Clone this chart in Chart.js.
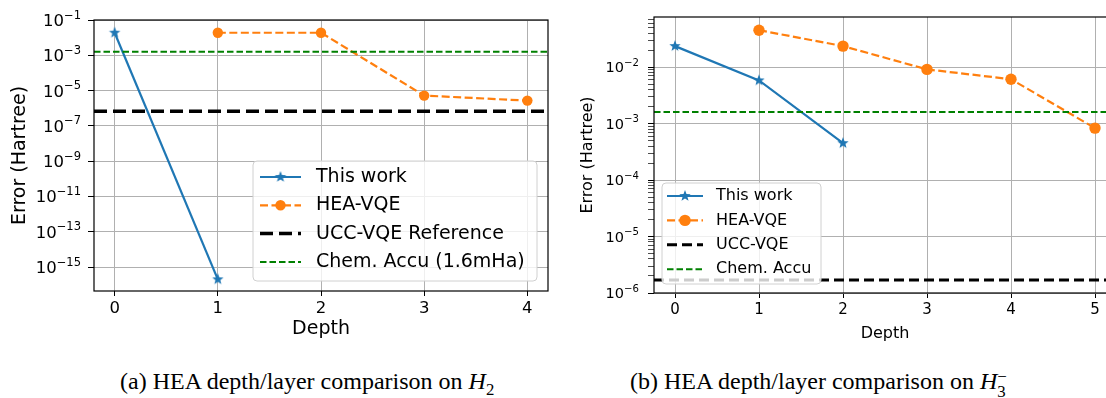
<!DOCTYPE html>
<html>
<head>
<meta charset="utf-8">
<script src="https://cdn.jsdelivr.net/npm/chart.js@4.4.1/dist/chart.umd.min.js"></script>
<style>
  body { margin: 0; background: #fff; width: 1106px; height: 398px; position: relative; overflow: hidden; }
  #chartA { position: absolute; left: 0; top: 0; }
  #chartB { position: absolute; left: 560px; top: 0; }
  .caption { position: absolute; top: 368px; font-family: "Liberation Serif", serif; font-size: 24px; line-height: 26px; white-space: nowrap; color: #000; }
  .stack { display: inline-block; vertical-align: -0.45em; font-size: 0.7em; line-height: 0.85; }
  .stack span { display: block; }
</style>
</head>
<body>
<canvas id="chartA" width="560" height="350"></canvas>
<canvas id="chartB" width="566" height="350"></canvas>
<div class="caption" style="left:120px">(a) HEA depth/layer comparison on <i>H</i><sub style="font-size:0.7em">2</sub></div>
<div class="caption" style="left:630px">(b) HEA depth/layer comparison on <i>H</i><span class="stack"><span>&minus;</span><span>3</span></span></div>
<script>
// ---- (a) H2 ----
const xTicksA = [0, 1, 2, 3, 4];
const thisWorkDepthA = [0, 1];
const thisWorkA = [1.9e-2, 2e-16];
const heaDepthA = [1, 2, 3, 4];
const heaA = [1.9e-2, 1.9e-2, 5.2e-6, 2.7e-6];
const uccA = 6.8e-7;
const chemAccuA = 1.6e-3;
const yTicksA = [1e-1, 1e-3, 1e-5, 1e-7, 1e-9, 1e-11, 1e-13, 1e-15];

// ---- (b) H3- ----
const xTicksB = [0, 1, 2, 3, 4, 5];
const thisWorkDepthB = [0, 1, 2];
const thisWorkB = [2.35e-2, 5.8e-3, 4.5e-4];
const heaDepthB = [1, 2, 3, 4, 5];
const heaB = [4.5e-2, 2.35e-2, 9.1e-3, 6.1e-3, 8.3e-4];
const uccB = 1.7e-6;
const chemAccuB = 1.6e-3;
const yTicksB = [1e-6, 1e-5, 1e-4, 1e-3, 1e-2];

const labelsA = ['This work', 'HEA-VQE', 'UCC-VQE Reference', 'Chem. Accu (1.6mHa)'];
const labelsB = ['This work', 'HEA-VQE', 'UCC-VQE', 'Chem. Accu'];

const BLUE = '#1f77b4', ORANGE = '#ff7f0e', GREEN = '#008000', GRID = '#b0b0b0';

Chart.defaults.font.family = '"DejaVu Sans", sans-serif';
Chart.defaults.color = '#000';

function makeStar(r, color) {
  const c = document.createElement('canvas');
  c.width = c.height = Math.ceil(2 * r + 2);
  const g = c.getContext('2d');
  g.beginPath();
  for (let i = 0; i < 10; i++) {
    const a = -Math.PI / 2 + i * Math.PI / 5;
    const rr = i % 2 ? r * 0.42 : r;
    g.lineTo(c.width / 2 + rr * Math.cos(a), c.height / 2 + rr * Math.sin(a));
  }
  g.closePath();
  g.fillStyle = color;
  g.fill();
  return c;
}

function isMajor(v) {
  const l = Math.log10(v);
  return Math.abs(l - Math.round(l)) < 1e-6;
}

function pts(xs, ys) {
  return xs.map((x, i) => ({ x: x, y: ys[i] }));
}

// frame round the plot area
const frame = {
  id: 'frame',
  afterDraw(chart) {
    const a = chart.chartArea, ctx = chart.ctx;
    ctx.save();
    ctx.strokeStyle = '#000';
    ctx.lineWidth = 1.2;
    ctx.strokeRect(a.left, a.top, a.right - a.left, a.bottom - a.top);
    ctx.restore();
  }
};

// y tick labels as 10 with raised exponent
const expLabels = {
  id: 'expLabels',
  afterDraw(chart, args, o) {
    const s = chart.scales.y, ctx = chart.ctx;
    const size = o.size;
    ctx.save();
    ctx.fillStyle = '#000';
    ctx.textBaseline = 'alphabetic';
    ctx.textAlign = 'left';
    s.ticks.forEach(t => {
      if (!isMajor(t.value)) return;
      const y = s.getPixelForValue(t.value);
      const e = Math.round(Math.log10(t.value));
      const expText = (e < 0 ? '\u2212' : '') + Math.abs(e);
      ctx.font = (size * 0.7) + 'px "DejaVu Sans"';
      const we = ctx.measureText(expText).width;
      ctx.font = size + 'px "DejaVu Sans"';
      const wb = ctx.measureText('10').width;
      const xr = chart.chartArea.left - o.gap;
      const base = y + 0.36 * size;
      ctx.fillText('10', xr - we - wb, base);
      ctx.font = (size * 0.7) + 'px "DejaVu Sans"';
      ctx.fillText(expText, xr - we, base - 0.45 * size);
    });
    ctx.restore();
  }
};

// matplotlib-like legend box inside the axes
const boxLegend = {
  id: 'boxLegend',
  afterDraw(chart, args, o) {
    const ctx = chart.ctx;
    ctx.save();
    ctx.beginPath();
    ctx.roundRect(o.x, o.y, o.w, o.h, 4);
    ctx.fillStyle = 'rgba(255,255,255,0.8)';
    ctx.fill();
    ctx.strokeStyle = '#d0d0d0';
    ctx.lineWidth = 1;
    ctx.stroke();
    ctx.font = o.size + 'px "DejaVu Sans"';
    ctx.textBaseline = 'middle';
    chart.data.datasets.forEach((ds, i) => {
      const y = o.y0 + i * o.step;
      ctx.strokeStyle = ds.borderColor;
      ctx.lineWidth = ds.borderWidth;
      ctx.setLineDash(ds.borderDash || []);
      ctx.beginPath();
      ctx.moveTo(o.h0, y);
      ctx.lineTo(o.h1, y);
      ctx.stroke();
      ctx.setLineDash([]);
      const mx = (o.h0 + o.h1) / 2;
      if (ds.pointStyle instanceof HTMLCanvasElement) {
        ctx.drawImage(ds.pointStyle, mx - ds.pointStyle.width / 2, y - ds.pointStyle.height / 2);
      } else if (ds.pointRadius > 0) {
        ctx.beginPath();
        ctx.arc(mx, y, ds.pointRadius, 0, Math.PI * 2);
        ctx.fillStyle = ds.pointBackgroundColor;
        ctx.fill();
      }
      ctx.fillStyle = '#000';
      ctx.fillText(ds.label, o.tx, y);
    });
    ctx.restore();
  }
};

function makeChart(id, cfg) {
  const xMin = cfg.xMin, xMax = cfg.xMax;
  return new Chart(document.getElementById(id), {
    type: 'line',
    data: {
      datasets: [
        {
          label: cfg.labels[0],
          data: pts(cfg.twX, cfg.tw),
          borderColor: BLUE, backgroundColor: BLUE, borderWidth: 2.2,
          pointStyle: makeStar(cfg.star, BLUE), pointRadius: cfg.star,
          order: 2
        },
        {
          label: cfg.labels[1],
          data: pts(cfg.heaX, cfg.hea),
          borderColor: ORANGE, backgroundColor: ORANGE, borderWidth: 2.2,
          borderDash: [8, 3.5],
          pointStyle: 'circle', pointRadius: cfg.dot,
          pointBackgroundColor: ORANGE, pointBorderWidth: 0,
          order: 1
        },
        {
          label: cfg.labels[2],
          data: [{ x: xMin, y: cfg.ucc }, { x: xMax, y: cfg.ucc }],
          borderColor: '#000', borderWidth: cfg.uccWidth,
          borderDash: cfg.uccDash, pointRadius: 0,
          order: 0
        },
        {
          label: cfg.labels[3],
          data: [{ x: xMin, y: cfg.chem }, { x: xMax, y: cfg.chem }],
          borderColor: GREEN, borderWidth: 2,
          borderDash: [6.5, 3], pointRadius: 0,
          order: 0
        }
      ]
    },
    options: {
      responsive: false,
      animation: false,
      layout: { padding: { top: cfg.padTop, right: cfg.padRight, left: 0, bottom: 0 } },
      plugins: {
        legend: { display: false },
        tooltip: { enabled: false },
        expLabels: { size: cfg.yFont, gap: cfg.yGap },
        boxLegend: cfg.legend
      },
      scales: {
        x: {
          type: 'linear',
          min: xMin, max: xMax,
          afterBuildTicks: s => { s.ticks = cfg.xTicks.map(v => ({ value: v })); },
          afterFit: s => { s.height = cfg.xHeight; },
          border: { display: false },
          grid: { color: GRID, lineWidth: 1, tickColor: '#000', tickLength: 5 },
          ticks: { font: { size: cfg.xFont }, padding: 3, color: '#000' },
          title: { display: true, text: 'Depth', font: { size: cfg.titleFont }, padding: { top: 0, bottom: cfg.xTitlePad } }
        },
        y: {
          type: 'logarithmic',
          min: cfg.yMin, max: cfg.yMax,
          afterBuildTicks: s => { s.ticks = cfg.yTickValues.map(v => ({ value: v, major: isMajor(v) })); },
          afterFit: s => { s.width = 94; },
          border: { display: false },
          grid: {
            color: c => (c.tick && isMajor(c.tick.value)) ? GRID : 'rgba(0,0,0,0)',
            lineWidth: 1,
            tickColor: '#000',
            tickWidth: c => (c.tick && isMajor(c.tick.value)) ? 1 : 0.7,
            tickLength: 6
          },
          ticks: { display: false },
          title: { display: true, text: 'Error (Hartree)', font: { size: cfg.titleFont }, padding: { top: cfg.yTitlePad, bottom: 0 } }
        }
      }
    },
    plugins: [frame, expLabels, boxLegend]
  });
}

// minor tick positions for the right axis (2..9 x each decade, inside the range)
const yMaxB = 0.077;
const yMinorB = [];
yTicksB.forEach(d => { for (let m = 2; m <= 9; m++) { if (d * m <= yMaxB) yMinorB.push(d * m); } });

makeChart('chartA', {
  labels: labelsA,
  twX: thisWorkDepthA, tw: thisWorkA,
  heaX: heaDepthA, hea: heaA,
  ucc: uccA, chem: chemAccuA,
  xMin: -0.2, xMax: 4.2, xTicks: xTicksA,
  yMin: Math.pow(10, -16.36), yMax: 1e-1, yTickValues: yTicksA,
  star: 6, dot: 5.2,
  uccWidth: 3.5, uccDash: [13, 6],
  padTop: 20, padRight: 12, xHeight: 59,
  xFont: 16.5, yFont: 16.5, yGap: 13, titleFont: 19,
  xTitlePad: 9.5, yTitlePad: 9,
  legend: { x: 253, y: 161, w: 284, h: 120, y0: 177, step: 28.3, h0: 260, h1: 301, tx: 316, size: 19 }
});

makeChart('chartB', {
  labels: labelsB,
  twX: thisWorkDepthB, tw: thisWorkB,
  heaX: heaDepthB, hea: heaB,
  ucc: uccB, chem: chemAccuB,
  xMin: -0.25, xMax: 5.25, xTicks: xTicksB,
  yMin: 1e-6, yMax: yMaxB, yTickValues: yTicksB.concat(yMinorB),
  star: 6, dot: 5.7,
  uccWidth: 3, uccDash: [10, 5],
  padTop: 17, padRight: 10, xHeight: 57,
  xFont: 15, yFont: 14.5, yGap: 15, titleFont: 16,
  xTitlePad: 6.5, yTitlePad: 18,
  legend: { x: 102, y: 183, w: 159, h: 101, y0: 196, step: 24.4, h0: 107, h1: 143, tx: 156, size: 16 }
});
</script>
</body>
</html>
